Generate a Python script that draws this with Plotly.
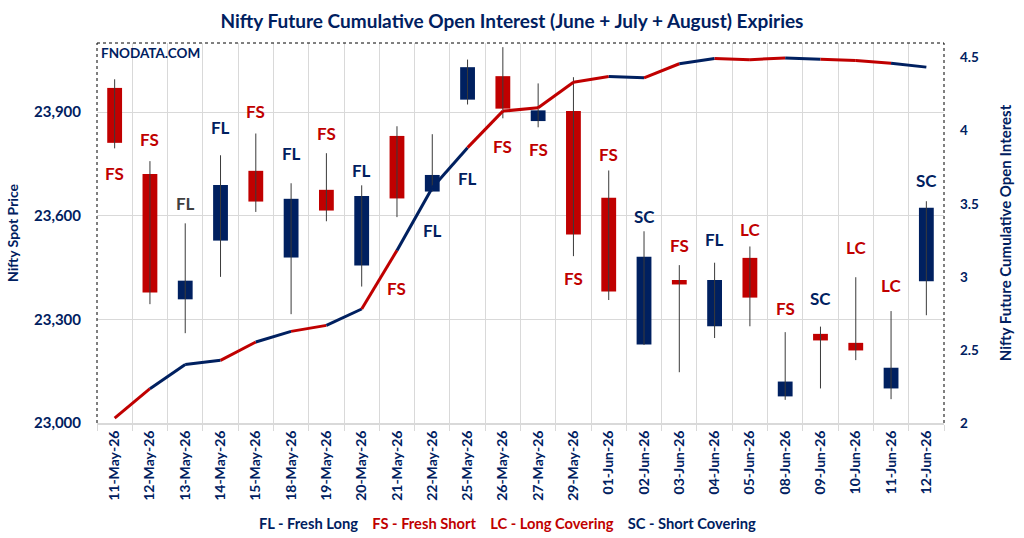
import plotly.graph_objects as go

dates = ["11-May-26", "12-May-26", "13-May-26", "14-May-26", "15-May-26", "18-May-26",
         "19-May-26", "20-May-26", "21-May-26", "22-May-26", "25-May-26", "26-May-26",
         "27-May-26", "29-May-26", "01-Jun-26", "02-Jun-26", "03-Jun-26", "04-Jun-26",
         "05-Jun-26", "08-Jun-26", "09-Jun-26", "10-Jun-26", "11-Jun-26", "12-Jun-26"]

open_ = [23970, 23721, 23358, 23528, 23730, 23479, 23675, 23456, 23831, 23670, 23936, 24004,
         23874, 23903, 23652, 23227, 23414, 23280, 23478, 23077, 23258, 23232, 23100, 23410]
high = [23995, 23758, 23578, 23775, 23838, 23694, 23781, 23688, 23859, 23836, 24052, 24088,
        23983, 24001, 23731, 23555, 23457, 23464, 23511, 23263, 23279, 23422, 23324, 23642]
low = [23795, 23344, 23260, 23423, 23611, 23315, 23584, 23395, 23596, 23670, 23922, 23882,
       23856, 23483, 23356, 23226, 23147, 23246, 23280, 23067, 23100, 23182, 23069, 23312]
close = [23811, 23378, 23412, 23689, 23641, 23649, 23615, 23657, 23650, 23718, 24030, 23910,
         23905, 23546, 23381, 23481, 23401, 23414, 23363, 23120, 23239, 23210, 23160, 23623]

oi = [2.034, 2.235, 2.400, 2.429, 2.554, 2.627, 2.668, 2.780, 3.181, 3.610, 3.884, 4.134,
      4.157, 4.332, 4.371, 4.362, 4.458, 4.494, 4.486, 4.497, 4.488, 4.481, 4.462, 4.435]

labels = ["FS", "FS", "FL", "FL", "FS", "FL", "FS", "FL", "FS", "FL", "FL", "FS",
          "FS", "FS", "FS", "SC", "FS", "FL", "LC", "FS", "SC", "LC", "LC", "SC"]
label_y = [23723, 23821, 23635, 23855, 23903, 23780, 23838, 23731, 23390, 23556, 23708, 23799,
           23792, 23419, 23778, 23599, 23513, 23532, 23561, 23332, 23361, 23508, 23397, 23701]

NAVY = "#002060"
RED = "#C00000"
GRID = "#D9D9D9"
FONT = "Lato"

label_colors = {"FS": RED, "LC": RED, "FL": NAVY, "SC": NAVY}

fig = go.Figure()

# wicks
wx, wy = [], []
for d, h, l in zip(dates, high, low):
    wx += [d, d, None]
    wy += [l, h, None]
fig.add_trace(go.Scatter(x=wx, y=wy, mode="lines", line=dict(color="#3A3A3A", width=1),
                         hoverinfo="skip", showlegend=False))

# bodies
body_base = [min(o, c) for o, c in zip(open_, close)]
body_h = [abs(c - o) for o, c in zip(open_, close)]
body_col = [NAVY if c >= o else RED for o, c in zip(open_, close)]
fig.add_trace(go.Bar(x=dates, y=body_h, base=body_base, width=0.42,
                     marker=dict(color=body_col, line=dict(width=0)), showlegend=False))

# OI line segments coloured by the label of the segment end
for i in range(1, len(dates)):
    fig.add_trace(go.Scatter(x=[dates[i - 1], dates[i]], y=[oi[i - 1], oi[i]], yaxis="y2",
                             mode="lines", line=dict(color=label_colors[labels[i]], width=3),
                             showlegend=False))

annotations = []
for i, (d, lab, ly) in enumerate(zip(dates, labels, label_y)):
    col = label_colors[lab]
    if i == 2:
        col = "#404040"
    annotations.append(dict(x=d, y=ly, xref="x", yref="y", text=lab, showarrow=False,
                            font=dict(family=FONT, size=17, color=col, weight="bold")))

annotations.append(dict(x=0, y=1, xref="paper", yref="paper", xanchor="left", yanchor="top",
                        xshift=2, yshift=0,
                        text="FNODATA.COM", showarrow=False,
                        font=dict(family=FONT, size=13.5, color=NAVY, weight="bold")))

L, R, T, B = 89, 76, 43, 115
pw, ph = 1024 - L - R, 538 - T - B

legend_txt = (f"<span style='color:{NAVY}'>FL - Fresh Long</span>&nbsp;&nbsp;&nbsp;&nbsp;"
              f"<span style='color:{RED}'>FS - Fresh Short</span>&nbsp;&nbsp;&nbsp;&nbsp;"
              f"<span style='color:{RED}'>LC - Long Covering</span>&nbsp;&nbsp;&nbsp;&nbsp;"
              f"<span style='color:{NAVY}'>SC - Short Covering</span>")
annotations.append(dict(x=(505 - L) / pw, y=(538 - B - 523) / ph, xref="paper", yref="paper",
                        xanchor="center", yanchor="middle", text=legend_txt, showarrow=False,
                        font=dict(family=FONT, size=14.7, color=NAVY, weight="bold")))

fig.update_layout(
    width=1024, height=538,
    margin=dict(l=L, r=R, t=T, b=B),
    paper_bgcolor="white", plot_bgcolor="white",
    title=dict(text="Nifty Future Cumulative Open Interest (June + July + August) Expiries",
               x=0.5, xanchor="center", y=1 - 21 / 538, yanchor="middle",
               font=dict(family=FONT, size=19, color=NAVY, weight="bold")),
    xaxis=dict(type="category", range=[-0.5, len(dates) - 0.5], tickangle=-90,
               showgrid=True, gridcolor=GRID, gridwidth=1, tickson="boundaries",
               ticks="outside", ticklen=6, tickcolor=GRID,
               showline=True, linecolor=GRID, linewidth=2,
               tickfont=dict(family=FONT, size=14, color=NAVY, weight="bold")),
    yaxis=dict(range=[23000, 24100], dtick=300, tick0=23000, tickformat=",d",
               showgrid=True, gridcolor=GRID, gridwidth=1, zeroline=False, showline=False,
               ticklabelstandoff=15,
               tickfont=dict(family=FONT, size=15, color=NAVY, weight="bold"),
               title=dict(text="Nifty Spot Price", standoff=12,
                          font=dict(family=FONT, size=14, color=NAVY, weight="bold"))),
    yaxis2=dict(range=[2, 4.6], dtick=0.5, tick0=2, overlaying="y", side="right",
                showgrid=False, zeroline=False, showline=False, ticklabelstandoff=15,
                tickfont=dict(family=FONT, size=13.5, color=NAVY, weight="bold"),
                title=dict(text="Nifty Future Cumulative Open Interest", standoff=22,
                           font=dict(family=FONT, size=15, color=NAVY, weight="bold"))),
    annotations=annotations,
    showlegend=False,
    shapes=[
        dict(type="line", xref="paper", yref="paper", x0=0, x1=0, y0=0, y1=1,
             line=dict(color="black", width=1, dash="dot")),
        dict(type="line", xref="paper", yref="paper", x0=0, x1=1, y0=1, y1=1,
             line=dict(color="black", width=1, dash="dot")),
        dict(type="line", xref="paper", yref="paper", x0=1, x1=1, y0=0, y1=1,
             line=dict(color="black", width=1, dash="dot")),
    ],
)

fig.write_html("out.html")
